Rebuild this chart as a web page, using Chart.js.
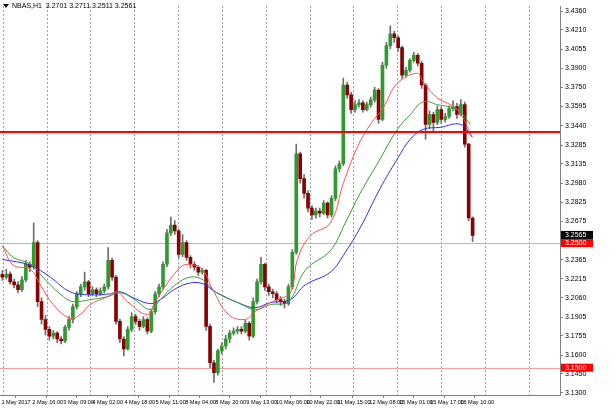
<!DOCTYPE html>
<html>
<head>
<meta charset="UTF-8">
<title>NBAS,H1</title>
<script src="https://cdn.jsdelivr.net/npm/chart.js"></script>
<style>
  body { margin: 0; background: #fff; }
  #wrap { width: 615px; height: 410px; }
</style>
</head>
<body>
<div id="wrap"><canvas id="c"></canvas></div>
<script>
// candle data (one candle per slot)
const opens  = [3.2250,3.2227,3.2251,3.2188,3.2164,3.2125,3.2204,3.2330,3.2306,3.2503,3.2030,3.1887,3.1808,3.1753,3.1777,3.1730,3.1714,3.1824,3.1887,3.1990,3.2093,3.2148,3.2188,3.2093,3.2125,3.2093,3.2117,3.2148,3.2361,3.2227,3.1872,3.1730,3.1651,3.1808,3.1911,3.1872,3.1832,3.1887,3.1793,3.1950,3.2093,3.2148,3.2330,3.2582,3.2645,3.2598,3.2409,3.2503,3.2385,3.2330,3.2306,3.2267,3.2282,3.1832,3.1540,3.1461,3.1635,3.1674,3.1730,3.1777,3.1793,3.1808,3.1793,3.1856,3.1753,3.2030,3.2188,3.2330,3.2148,3.2109,3.2093,3.2046,3.2030,3.2014,3.2148,3.2425,3.3215,3.3017,3.2899,3.2780,3.2725,3.2756,3.2740,3.2820,3.2725,3.2859,3.3096,3.3136,3.3768,3.3689,3.3570,3.3610,3.3625,3.3570,3.3610,3.3649,3.3728,3.3491,3.3926,3.4084,3.4178,3.4147,3.4068,3.3847,3.3886,3.3965,3.4005,3.3942,3.3768,3.3452,3.3531,3.3467,3.3570,3.3491,3.3515,3.3578,3.3594,3.3531,3.3610,3.3294,3.2701];
const highs  = [3.2280,3.2290,3.2270,3.2210,3.2190,3.2230,3.2360,3.2350,3.2661,3.2520,3.2060,3.1920,3.1830,3.1800,3.1790,3.1750,3.1840,3.1910,3.2010,3.2110,3.2170,3.2267,3.2200,3.2150,3.2140,3.2140,3.2170,3.2464,3.2380,3.2240,3.1890,3.1750,3.1830,3.1940,3.1930,3.1890,3.1910,3.1900,3.1970,3.2110,3.2170,3.2350,3.2610,3.2709,3.2680,3.2610,3.2567,3.2520,3.2400,3.2350,3.2320,3.2300,3.2290,3.1850,3.1560,3.1650,3.1700,3.1760,3.1800,3.1820,3.1830,3.1830,3.1880,3.1870,3.2060,3.2210,3.2385,3.2340,3.2170,3.2130,3.2110,3.2070,3.2050,3.2170,3.2450,3.3294,3.3230,3.3050,3.2920,3.2800,3.2780,3.2780,3.2840,3.2830,3.2880,3.3120,3.3160,3.3823,3.3790,3.3710,3.3640,3.3650,3.3640,3.3630,3.3670,3.3750,3.3740,3.3950,3.4110,3.4242,3.4200,3.4160,3.4080,3.3910,3.3980,3.4030,3.4020,3.3960,3.3780,3.3560,3.3550,3.3600,3.3590,3.3540,3.3600,3.3640,3.3620,3.3650,3.3630,3.3300,3.2711];
const lows   = [3.2200,3.2210,3.2170,3.2140,3.2100,3.2110,3.2190,3.2270,3.2290,3.1990,3.1850,3.1760,3.1720,3.1730,3.1700,3.1690,3.1700,3.1800,3.1860,3.1970,3.2070,3.2120,3.2070,3.2080,3.2070,3.2080,3.2100,3.2130,3.2200,3.1850,3.1700,3.1595,3.1640,3.1790,3.1850,3.1800,3.1820,3.1770,3.1780,3.1930,3.2070,3.2130,3.2310,3.2560,3.2570,3.2380,3.2390,3.2360,3.2300,3.2280,3.2240,3.2250,3.1800,3.1500,3.1382,3.1440,3.1610,3.1650,3.1700,3.1760,3.1770,3.1770,3.1780,3.1720,3.1740,3.2010,3.2170,3.2120,3.2080,3.2060,3.2020,3.2000,3.1980,3.2000,3.2130,3.2410,3.2980,3.2860,3.2750,3.2690,3.2700,3.2710,3.2730,3.2700,3.2710,3.2840,3.3070,3.3120,3.3660,3.3540,3.3550,3.3590,3.3550,3.3560,3.3590,3.3630,3.3460,3.3480,3.3900,3.4060,3.4110,3.4040,3.3820,3.3830,3.3870,3.3950,3.3920,3.3740,3.3334,3.3420,3.3400,3.3450,3.3460,3.3470,3.3500,3.3560,3.3500,3.3520,3.3270,3.2680,3.2511];
const closes = [3.2227,3.2251,3.2188,3.2164,3.2125,3.2204,3.2330,3.2306,3.2503,3.2030,3.1887,3.1808,3.1753,3.1777,3.1730,3.1714,3.1824,3.1887,3.1990,3.2093,3.2148,3.2188,3.2093,3.2125,3.2093,3.2117,3.2148,3.2361,3.2227,3.1872,3.1730,3.1651,3.1808,3.1911,3.1872,3.1832,3.1887,3.1793,3.1950,3.2093,3.2148,3.2330,3.2582,3.2645,3.2598,3.2409,3.2503,3.2385,3.2330,3.2306,3.2267,3.2282,3.1832,3.1540,3.1461,3.1635,3.1674,3.1730,3.1777,3.1793,3.1808,3.1793,3.1856,3.1753,3.2030,3.2188,3.2330,3.2148,3.2109,3.2093,3.2046,3.2030,3.2014,3.2148,3.2425,3.3215,3.3017,3.2899,3.2780,3.2725,3.2756,3.2740,3.2820,3.2725,3.2859,3.3096,3.3136,3.3768,3.3689,3.3570,3.3610,3.3625,3.3570,3.3610,3.3649,3.3728,3.3491,3.3926,3.4084,3.4178,3.4147,3.4068,3.3847,3.3886,3.3965,3.4005,3.3942,3.3768,3.3452,3.3531,3.3467,3.3570,3.3491,3.3515,3.3578,3.3594,3.3531,3.3610,3.3294,3.2701,3.2561];

// moving averages: [slot, price]
const maRed = [[0,3.2480],[2.8,3.2322],[7.1,3.2290],[9.7,3.2164],[13,3.2006],[17.3,3.1895],[19.9,3.1927],[22.4,3.2006],[26.8,3.2069],[29.3,3.2109],[31.9,3.2030],[37,3.1927],[39,3.2030],[44.9,3.2290],[47.4,3.2330],[51,3.2290],[53.6,3.2132],[57.7,3.1927],[62,3.1887],[64.5,3.1950],[68.9,3.2030],[73,3.2085],[74.2,3.2164],[75.3,3.2369],[78.6,3.2559],[83.7,3.2661],[87,3.2978],[90.6,3.3270],[93.9,3.3452],[97.2,3.3586],[100.8,3.3783],[105.9,3.3862],[107.4,3.3791],[111,3.3665],[116.1,3.3570],[119.9,3.3349]];
const maGreen = [[0,3.2480],[2.8,3.2385],[7.1,3.2330],[11.5,3.2188],[15.6,3.2069],[18.1,3.2030],[22.4,3.2046],[26.8,3.2069],[30.1,3.2101],[33.4,3.2054],[37.8,3.1966],[40.3,3.2046],[44.1,3.2164],[48,3.2227],[51.3,3.2203],[54.3,3.2109],[60.7,3.2014],[64.5,3.1966],[68.4,3.2006],[73,3.2030],[77.3,3.2282],[83.7,3.2440],[87.5,3.2661],[91.3,3.2899],[96.4,3.3175],[100.8,3.3412],[104.1,3.3531],[107.4,3.3633],[111,3.3610],[116.1,3.3570],[119.4,3.3452]];
const maBlue = [[0,3.2369],[7.1,3.2322],[12.2,3.2227],[17.3,3.2109],[22.4,3.2085],[27.6,3.2093],[30.1,3.2109],[33.9,3.2054],[37.8,3.2014],[40.3,3.2046],[44.1,3.2132],[48,3.2180],[51.3,3.2172],[54.3,3.2109],[60.7,3.2014],[64.5,3.1982],[68.4,3.2022],[73.5,3.2046],[77.3,3.2164],[83.7,3.2267],[87.5,3.2425],[91.3,3.2622],[96.4,3.2938],[100.8,3.3175],[104.1,3.3333],[107.4,3.3412],[111.7,3.3428],[116.9,3.3452],[119.9,3.3349]];

// axes
const priceTicks = [3.4360,3.4210,3.4055,3.3900,3.3750,3.3595,3.3440,3.3285,3.3135,3.2980,3.2825,3.2675,3.2365,3.2215,3.2060,3.1905,3.1755,3.1600,3.1450,3.1300];
const timeLabels = ['1 May 2017','2 May 16:00','3 May 09:00','4 May 02:00','4 May 18:00','5 May 11:00','8 May 04:00','8 May 20:00','9 May 13:00','10 May 06:00','10 May 22:00','11 May 15:00','12 May 08:00','15 May 01:00','15 May 17:00','16 May 10:00'];
const timeSlots = [-0.5,7.4,15.3,22.7,30.9,38.8,46.4,54.1,62,69.6,77.3,85.2,93.4,101,108.9,116.6];
const gridSlots = [0.26,11.5,22.4,33.7,44.9,56.1,67.3,78.6,89.5,100.8,112,123.2,134.4];
const levelThick = 3.3390;
const levelsThin = [3.2500, 3.1500];
const header = 'NBAS,H1  3.2701 3.2711 3.2511 3.2561';

const FONT = '7px "Liberation Sans", "DejaVu Sans", sans-serif';
const FONT_X = '5.6px "Liberation Sans Narrow", "Liberation Sans", sans-serif';

const wicks = opens.map((o, i) => ({ x: i, y: [lows[i], highs[i]] }));
const bodies = opens.map((o, i) => ({ x: i, y: o === closes[i] ? [o - 0.0003, o + 0.0003] : [o, closes[i]] }));
const bodyColors = opens.map((o, i) => closes[i] >= o ? '#2f9a2f' : '#8b0000');

const overlay = {
    id: 'overlay',
    beforeDatasetsDraw(chart) {
        const { ctx, chartArea: a, scales: { x, y } } = chart;
        ctx.save();
        ctx.strokeStyle = '#9a9a9a';
        ctx.setLineDash([2, 2]);
        ctx.lineWidth = 1;
        gridSlots.forEach(s => {
            const px = Math.round(x.getPixelForValue(s)) + 0.5;
            ctx.beginPath(); ctx.moveTo(px, a.top); ctx.lineTo(px, a.bottom); ctx.stroke();
        });
        ctx.setLineDash([]);
        ctx.strokeStyle = '#f4a0a0';
        levelsThin.forEach(v => {
            const py = Math.round(y.getPixelForValue(v)) + 0.5;
            ctx.beginPath(); ctx.moveTo(a.left, py); ctx.lineTo(a.right, py); ctx.stroke();
        });
        ctx.restore();
    },
    afterDatasetsDraw(chart) {
        const { ctx, chartArea: a, scales: { x, y } } = chart;
        ctx.save();
        ctx.strokeStyle = '#ff0000';
        ctx.lineWidth = 2;
        const py = y.getPixelForValue(levelThick);
        ctx.beginPath(); ctx.moveTo(a.left, py); ctx.lineTo(a.right, py); ctx.stroke();

        // header
        ctx.fillStyle = '#000';
        ctx.font = FONT;
        ctx.textBaseline = 'middle';
        ctx.beginPath(); ctx.moveTo(3, 4); ctx.lineTo(9, 4); ctx.lineTo(6, 8); ctx.closePath(); ctx.fill();
        ctx.fillText(header, 12, 6);

        // time labels, left-aligned after each tick
        ctx.font = FONT_X;
        ctx.textBaseline = 'top';
        ctx.textAlign = 'left';
        timeSlots.forEach((s, i) => {
            const px = Math.max(0, x.getPixelForValue(s) + 1);
            ctx.fillText(timeLabels[i], px, a.bottom + 5);
        });

        // price tags on the right axis
        ctx.font = FONT;
        ctx.textBaseline = 'middle';
        const tag = (v, bg) => {
            const ty = y.getPixelForValue(v);
            ctx.fillStyle = bg;
            ctx.fillRect(a.right + 1, ty - 4, 32, 8);
            ctx.fillStyle = '#fff';
            ctx.fillText(v.toFixed(4), a.right + 5, ty);
        };
        tag(3.1500, '#ff0000');
        tag(3.2565, '#000000');
        tag(3.2500, '#ff0000');
        ctx.restore();
    }
};

new Chart(document.getElementById('c'), {
    type: 'bar',
    data: {
        datasets: [
            { type: 'line', data: maRed.map(p => ({ x: p[0], y: p[1] })), borderColor: '#ff5050', borderWidth: 1, pointRadius: 0, tension: 0.4, order: 1 },
            { type: 'line', data: maGreen.map(p => ({ x: p[0], y: p[1] })), borderColor: '#38a038', borderWidth: 1, pointRadius: 0, tension: 0.4, order: 1 },
            { type: 'line', data: maBlue.map(p => ({ x: p[0], y: p[1] })), borderColor: '#3030ff', borderWidth: 1, pointRadius: 0, tension: 0.4, order: 1 },
            { data: bodies, backgroundColor: bodyColors, barThickness: 3, grouped: false, order: 2 },
            { data: wicks, backgroundColor: '#6e6e6e', barThickness: 1, grouped: false, order: 3 }
        ]
    },
    options: {
        responsive: true,
        maintainAspectRatio: false,
        animation: false,
        layout: { padding: 0 },
        plugins: { legend: { display: false }, tooltip: { enabled: false } },
        scales: {
            x: {
                type: 'linear',
                min: -0.6,
                max: 142.3,
                offset: false,
                afterFit: s => { s.height = 15; },
                afterBuildTicks: s => { s.ticks = timeSlots.map(v => ({ value: v })); },
                grid: { drawOnChartArea: false, color: '#808080', tickLength: 3 },
                border: { color: '#808080' },
                ticks: { display: false }
            },
            y: {
                position: 'right',
                min: 3.1281,
                max: 3.4400,
                afterFit: s => { s.width = 55; },
                afterBuildTicks: s => { s.ticks = priceTicks.map(v => ({ value: v })); },
                grid: { drawOnChartArea: false, color: '#808080', tickLength: 3 },
                border: { color: '#808080' },
                ticks: {
                    font: { size: 7, family: 'Liberation Sans' }, color: '#000',
                    autoSkip: false, padding: 2,
                    callback: v => v.toFixed(4)
                }
            }
        }
    },
    plugins: [overlay]
});
</script>
</body>
</html>
